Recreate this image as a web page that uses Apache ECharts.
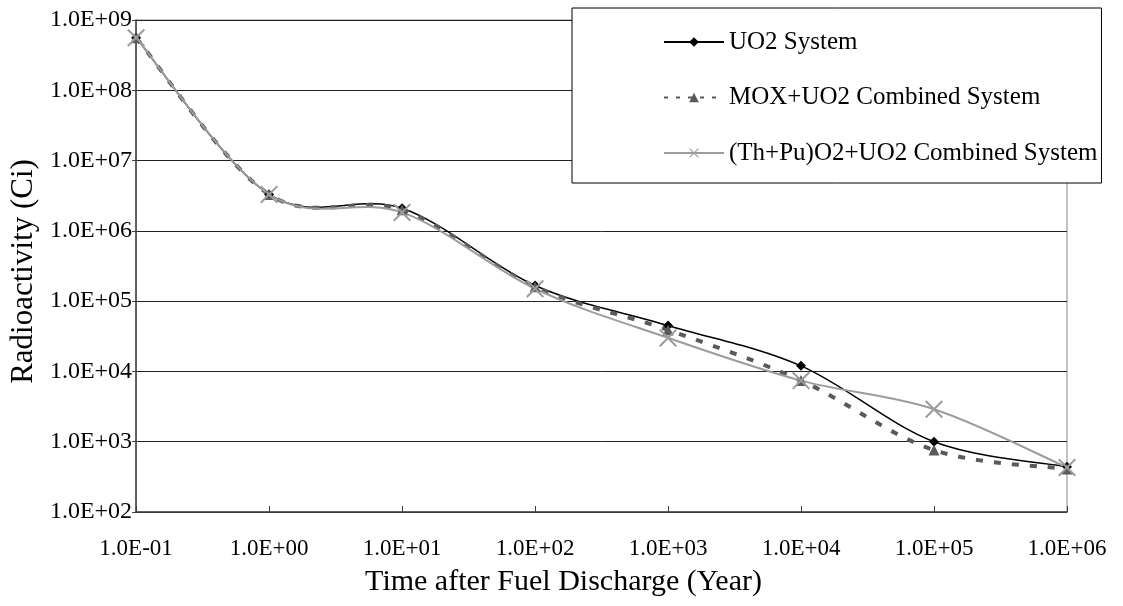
<!DOCTYPE html>
<html>
<head>
<meta charset="utf-8">
<script src="https://cdn.jsdelivr.net/npm/echarts@6/dist/echarts.min.js"></script>
<style>
  html, body { margin: 0; padding: 0; background: #fff; }
  #chart { width: 1123px; height: 606px; }
</style>
</head>
<body>
<div id="chart"></div>
<script>
// time after discharge (years) and activity (Ci)
const years = [0.1, 1, 10, 100, 1000, 10000, 100000, 1000000];
const uo2 = [5.6e8, 3.3e6, 2.1e6, 1.67e5, 4.5e4, 1.2e4, 1.0e3, 4.4e2];
const mox = [5.6e8, 3.3e6, 2.0e6, 1.6e5, 3.9e4, 7.4e3, 7.6e2, 4.1e2];
const thpu = [5.6e8, 3.3e6, 1.83e6, 1.5e5, 3.0e4, 7.4e3, 2.9e3, 4.3e2];
const seriesNames = ['UO2 System', 'MOX+UO2 Combined System', '(Th+Pu)O2+UO2 Combined System'];

const FONT = 'Liberation Serif';
const AXIS = '#404040';
const COLORS = ['#000', '#5a5a5a', '#9c9c9c'];

// 1.0E+03 style labels
const sci = (v) => {
  const e = Math.round(Math.log10(v));
  return '1.0E' + (e < 0 ? '-' : '+') + String(Math.abs(e)).padStart(2, '0');
};

const pairs = (ys) => years.map((x, i) => [x, ys[i]]);

// thin filled cross, ECharts has no stroke-only x symbol
const cross = 'path://M0,0.8L0.8,0L10,9.2L9.2,10Z M9.2,0L10,0.8L0.8,10L0,9.2Z';

// spreadsheet style smoothed line (catmull-rom, tangent / 6), lets the curve overshoot
// like the original instead of echarts' clamped smoothing
function smoothPath(p) {
  let d = 'M' + p[0][0] + ',' + p[0][1];
  for (let i = 0; i < p.length - 1; i++) {
    const a = p[Math.max(i - 1, 0)], b = p[i], c = p[i + 1], e = p[Math.min(i + 2, p.length - 1)];
    const c1 = [b[0] + (c[0] - a[0]) / 6, b[1] + (c[1] - a[1]) / 6];
    const c2 = [c[0] - (e[0] - b[0]) / 6, c[1] - (e[1] - b[1]) / 6];
    d += ' C' + c1.join(',') + ' ' + c2.join(',') + ' ' + c.join(',');
  }
  return d;
}

const curve = (ys, style) => ({
  type: 'custom',
  silent: true,
  clip: true,
  data: pairs(ys),
  renderItem: (params, api) => {
    if (params.dataIndex !== 0) return null;
    const pts = years.map((x, i) => api.coord([x, ys[i]]));
    return {
      type: 'path',
      shape: { pathData: smoothPath(pts) },
      style: Object.assign({ fill: 'none' }, style),
    };
  },
});

const markers = (name, ys, symbol, size, color, line) => ({
  name,
  type: 'line',
  data: pairs(ys),
  symbol,
  symbolSize: size,
  itemStyle: { color },
  lineStyle: Object.assign({ color, opacity: 0 }, line),
});

const chart = echarts.init(document.getElementById('chart'));

const option = {
  animation: false,
  grid: {
    left: 130, right: 56, top: 20, bottom: 94,
    show: true, borderColor: '#888', borderWidth: 1,
  },
  legend: {
    orient: 'vertical',
    left: 572, top: 8,
    padding: [21.5, 4, 17.5, 91],
    itemGap: 30.5,
    itemWidth: 60,
    itemHeight: 12,
    backgroundColor: '#fff',
    borderColor: '#000',
    borderWidth: 1,
    textStyle: { fontFamily: FONT, fontSize: 25, lineHeight: 25, color: '#000' },
    data: [
      { name: seriesNames[0], lineStyle: { opacity: 1 } },
      { name: seriesNames[1], lineStyle: { opacity: 1, type: [4, 8] } },
      { name: seriesNames[2], lineStyle: { opacity: 1 } },
    ],
  },
  xAxis: {
    type: 'log',
    min: 0.1,
    max: 1e6,
    splitNumber: 7,
    name: 'Time after Fuel Discharge (Year)',
    nameLocation: 'middle',
    nameGap: 55,
    nameTextStyle: { fontFamily: FONT, fontSize: 30, color: '#000', padding: [0, 76, 0, 0] },
    axisLine: { lineStyle: { color: AXIS, width: 1.5 } },
    axisTick: { inside: true, length: 6, lineStyle: { color: AXIS } },
    axisLabel: { fontFamily: FONT, fontSize: 23, color: '#000', margin: 25, formatter: sci },
    splitLine: { show: false },
    minorTick: { show: false },
  },
  yAxis: {
    type: 'log',
    min: 100,
    max: 1e9,
    splitNumber: 7,
    name: 'Radioactivity (Ci)',
    nameLocation: 'middle',
    nameGap: 91,
    nameTextStyle: { fontFamily: FONT, fontSize: 31, color: '#000', padding: [0, 11, 0, 0] },
    axisLine: { lineStyle: { color: AXIS, width: 1.5 } },
    axisTick: { length: 4, lineStyle: { color: AXIS } },
    axisLabel: { fontFamily: FONT, fontSize: 24, color: '#000', margin: 4, formatter: sci },
    splitLine: { lineStyle: { color: '#222', width: 1 } },
    minorTick: { show: false },
  },
  series: [
    curve(uo2, { stroke: COLORS[0], lineWidth: 1.5 }),
    markers(seriesNames[0], uo2, 'diamond', 10, COLORS[0], { width: 1.5 }),
    curve(mox, { stroke: COLORS[1], lineWidth: 4, lineDash: [7, 11] }),
    markers(seriesNames[1], mox, 'triangle', 11, COLORS[1], { width: 4, type: [7, 11] }),
    curve(thpu, { stroke: COLORS[2], lineWidth: 2 }),
    markers(seriesNames[2], thpu, cross, 18, COLORS[2], { width: 2 }),
  ],
};

chart.setOption(option);
</script>
</body>
</html>
